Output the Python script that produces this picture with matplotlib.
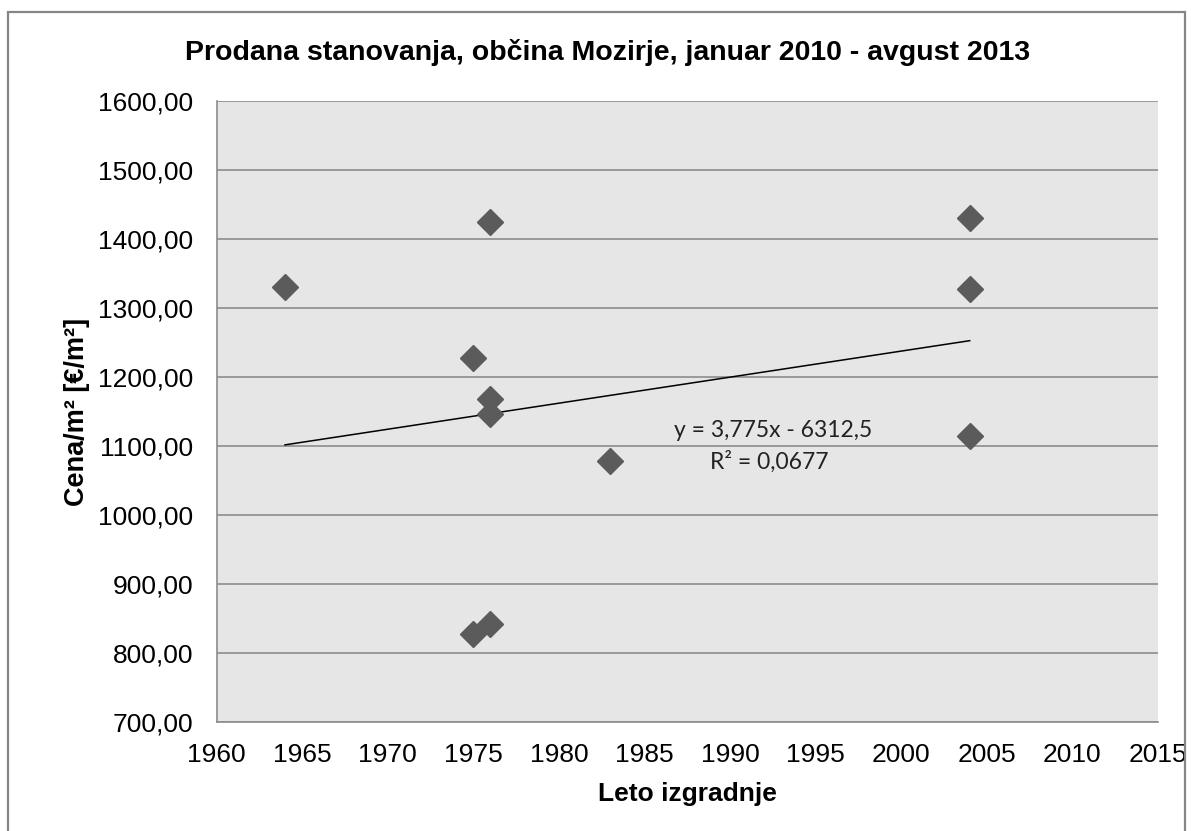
import matplotlib
matplotlib.use("Agg")
import matplotlib.pyplot as plt
from matplotlib.ticker import FuncFormatter, MultipleLocator
from matplotlib.patches import Rectangle

# data
leto = [1964, 1975, 1975, 1976, 1976, 1976, 1976, 1983, 2004, 2004, 2004]
cena = [1330, 1227, 828, 1425, 1168, 1147, 842, 1078, 1431, 1327, 1115]

# trendline as printed on the chart
trend_k = 3.775
trend_n = -6312.5
trend_label = "y = 3,775x - 6312,5"
r2_label = "R² = 0,0677"

title = "Prodana stanovanja, občina Mozirje, januar 2010 - avgust 2013"
xlabel = "Leto izgradnje"
ylabel = "Cena/m² [€/m²]"

plt.rcParams['font.family'] = ['Liberation Sans', 'DejaVu Sans']

fig = plt.figure(figsize=(11.91, 8.31), dpi=100)
ax = fig.add_axes([0.1818, 0.1312, 0.7905, 0.7473])

# outer chart border
fig.patches.append(Rectangle((8 / 1191, -0.05), 1177 / 1191, 1 - 12 / 831 + 0.05,
                             transform=fig.transFigure, fill=False,
                             edgecolor='#868686', linewidth=1.6))

ax.set_facecolor('#e6e6e6')
ax.set_xlim(1960, 2015)
ax.set_ylim(700, 1600)
ax.xaxis.set_major_locator(MultipleLocator(5))
ax.yaxis.set_major_locator(MultipleLocator(100))
ax.yaxis.set_major_formatter(FuncFormatter(lambda v, p: f"{v:.2f}".replace('.', ',')))

ax.grid(axis='y', color='#8c8c8c', linewidth=1.2)
ax.set_axisbelow(True)
for s in ['top', 'right']:
    ax.spines[s].set_visible(False)
for s in ['left', 'bottom']:
    ax.spines[s].set_color('#8c8c8c')
    ax.spines[s].set_linewidth(1.2)

ax.tick_params(axis='both', length=0, labelsize=19, colors='black')
ax.tick_params(axis='y', pad=17)
ax.tick_params(axis='x', pad=15)

# trendline
x0, x1 = min(leto), max(leto)
ax.plot([x0, x1], [trend_k * x0 + trend_n, trend_k * x1 + trend_n],
        color='black', linewidth=1.1, zorder=3)

ax.plot(leto, cena, linestyle='none', marker='D', markersize=13.5,
        color='#5b5b5b', zorder=4)

ax.text(1992.5, 1122, trend_label, ha='center', va='center',
        fontsize=16.5, family=['Lato', 'DejaVu Sans'], color='#222222')
ax.text(1992.3, 1077, r2_label, ha='center', va='center',
        fontsize=16.5, family=['Lato', 'DejaVu Sans'], color='#222222')

ax.set_xlabel(xlabel, fontsize=19, fontweight='bold')
ax.set_ylabel(ylabel, fontsize=19.5, fontweight='bold')
ax.xaxis.set_label_coords(0.5, -0.096)
ax.yaxis.set_label_coords(-0.134, 0.5)

fig.text(608 / 1191, 1 - 52 / 831, title, ha='center', va='center',
         fontsize=20.5, fontweight='bold')

fig.savefig("out.png", dpi=100)
